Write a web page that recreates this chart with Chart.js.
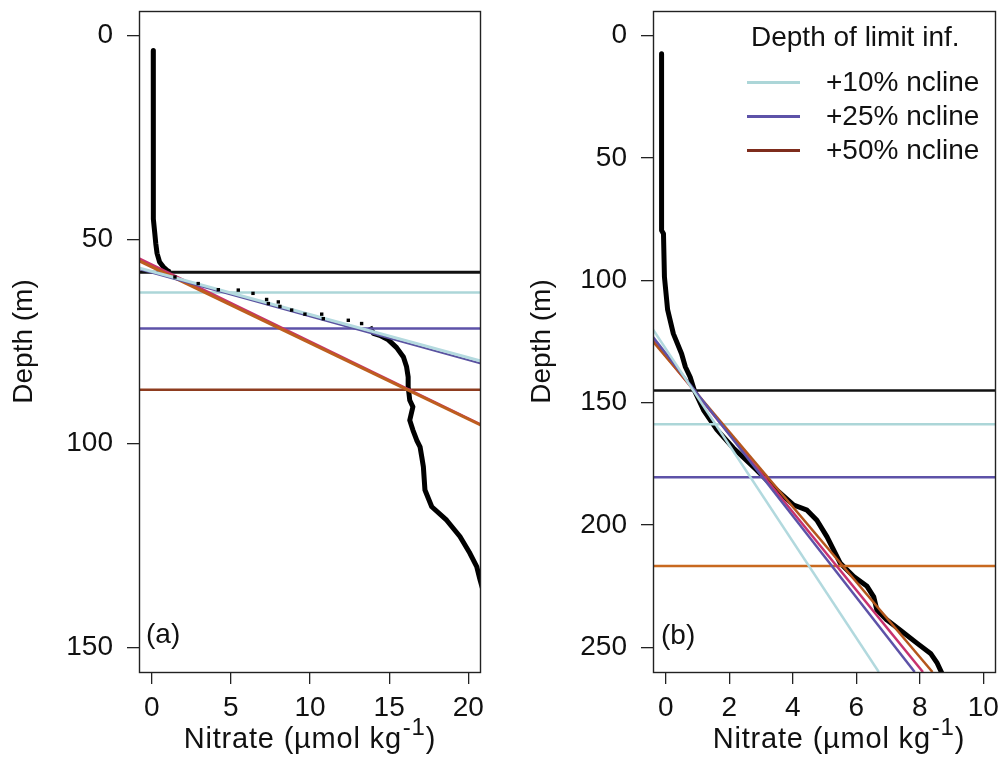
<!DOCTYPE html>
<html>
<head>
<meta charset="utf-8">
<script src="https://cdn.jsdelivr.net/npm/chart.js@4.4.1/dist/chart.umd.min.js"></script>
<style>
  html, body { margin: 0; padding: 0; background: #fff; }
  body { width: 1001px; height: 762px; position: relative; overflow: hidden;
         font-family: "Liberation Sans", Arial, sans-serif; color: #111; }
  canvas { position: absolute; top: 0; }
  #cA { left: 0; }
  #cB { left: 500px; }
  .txt { position: absolute; font-size: 28px; line-height: 28px; white-space: nowrap; }
  .xt { transform: translateX(-50%); font-size: 29px; letter-spacing: 0.8px; }
  .xt sup { font-size: 24px; position: relative; top: -13px; vertical-align: baseline; line-height: 0; margin-left: 1px; }
  .swatch { position: absolute; height: 3px; width: 53px; }
</style>
</head>
<body>
<canvas id="cA" width="500" height="762"></canvas>
<canvas id="cB" width="501" height="762"></canvas>
<div id="overlay"></div>
<script>
// ---- axes ----
const xRangeA = [-0.8, 20.8];
const yRangeA = [-6, 156];
const xTicksA = [0, 5, 10, 15, 20];
const yTicksA = [0, 50, 100, 150];

const xRangeB = [-0.4, 10.4];
const yRangeB = [-10, 260];
const xTicksB = [0, 2, 4, 6, 8, 10];
const yTicksB = [0, 50, 100, 150, 200, 250];

// ---- panel (a) nitrate profile ----
const topN_A   = [0.1, 0.1, 0.1, 0.1, 0.1, 0.13, 0.2, 0.26, 0.34, 0.5, 0.73, 0.95, 1.16];
const topD_A   = [3.7, 10, 20, 30, 40.4, 45, 48.6, 51, 53.4, 55.5, 56.7, 57.5, 58];
const dotsN_A  = [1.47, 2.94, 4.21, 5.47, 6.4, 7.26, 7.37, 8.0, 8.1, 8.84, 9.68, 10.74, 10.84, 12.42, 13.26];
const dotsD_A  = [59.2, 60.8, 62.3, 62.4, 63.2, 64.7, 65.7, 65.3, 66.4, 67.3, 68.3, 68.3, 69.4, 69.8, 70.6];
const lowN_A   = [13.79, 14.0, 14.4, 14.95, 15.47, 15.9, 16.1, 16.2, 16.2, 16.3, 16.5, 16.3, 16.5, 16.74, 16.95,
                  17.06, 17.16, 17.26, 17.69, 18.63, 19.47, 20.1, 20.53, 20.74, 21.0];
const lowD_A   = [71.4, 73.0, 73.5, 74.6, 76.5, 78.8, 81.2, 83.7, 86.1, 89.4, 91, 94.3, 96.7, 99.2, 100.8,
                  103.3, 105.7, 111.4, 115.5, 118.8, 122.8, 126.9, 130.2, 133.4, 137];

// ---- panel (a) depth limits and fitted lines ----
const limitsA = [58, 63, 71.8, 86.8];
const limitColorsA = ['#111111', '#acd6d8', '#5d52a8', '#8e3c1f'];
const fitLightA_N  = [-0.8, 20.8], fitLightA_D  = [57.0, 79.8];
const fitPurpleA_N = [-0.8, 20.8], fitPurpleA_D = [57.3, 80.4];
const fitOrangeA_N = [-0.8, 20.8], fitOrangeA_D = [55.2, 95.5];
const fitPinkA_N   = [-0.8, 20.8], fitPinkA_D   = [54.6, 95.4];

// ---- panel (b) nitrate profile ----
const profN_B = [-0.13, -0.13, -0.13, -0.13, -0.13, -0.07, -0.04, 0.03, 0.06, 0.24, 0.5, 0.62, 0.77, 0.9,
                 1.19, 1.61, 2.13, 2.87, 3.5, 4.03, 4.45, 4.76, 5.08, 5.29, 5.5, 5.92, 6.34, 6.55, 6.65,
                 6.97, 7.39, 7.92, 8.34, 8.55, 8.75];
const profD_B = [7.5, 20, 40, 60, 79.6, 81, 98.6, 108, 112, 121.8, 130, 135.4, 139.5, 144.9,
                 153, 161, 168.5, 177.6, 185.7, 191.8, 193.9, 198, 204.8, 210.2, 215.6, 221, 225, 229.3, 234.7,
                 238.8, 242.9, 248.3, 252.4, 256.4, 262];

// ---- panel (b) depth limits and fitted lines ----
const limitsB = [145, 158.8, 180.5, 216.7];
const limitColorsB = ['#111111', '#acd6d8', '#5d52a8', '#c8691f'];
const fitLightB_N  = [-0.4, 6.71], fitLightB_D  = [120.1, 260];
const fitPurpleB_N = [-0.4, 7.84], fitPurpleB_D = [123.2, 260];
const fitOrangeB_N = [-0.4, 8.4],  fitOrangeB_D = [125.0, 260];
const fitPinkB_N   = [-0.4, 8.1],  fitPinkB_D   = [124.5, 260];

// ---- legend ----
const legendTitle  = 'Depth of limit inf.';
const legendLabels = ['+10% ncline', '+25% ncline', '+50% ncline'];
const legendColors = ['#acd6d8', '#5d52a8', '#7e2c1c'];

const FONT = '"Liberation Sans", Arial, sans-serif';
const INK = '#111';

function pts(xs, ys) { return xs.map((x, i) => ({ x: x, y: ys[i] })); }

function line(data, color, width) {
  return { data: data, showLine: true, borderColor: color, borderWidth: width,
           pointRadius: 0, clip: 0, borderCapStyle: 'butt', borderJoinStyle: 'round' };
}

const boxPlugin = {
  id: 'box',
  afterDatasetsDraw(chart) {
    const { ctx, chartArea: a } = chart;
    ctx.save();
    ctx.strokeStyle = '#222';
    ctx.lineWidth = 1.4;
    ctx.strokeRect(Math.round(a.left) + 0.5, Math.round(a.top) + 0.5,
                   Math.round(a.right - a.left) - 1, Math.round(a.bottom - a.top));
    ctx.restore();
  }
};

function makePanel(id, o) {
  return new Chart(document.getElementById(id), {
    type: 'scatter',
    data: { datasets: o.datasets },
    plugins: [boxPlugin],
    options: {
      responsive: false,
      animation: false,
      events: [],
      layout: { padding: { top: 11, right: o.padRight, left: 0, bottom: 0 } },
      plugins: { legend: { display: false }, tooltip: { enabled: false } },
      scales: {
        x: {
          type: 'linear', min: o.xRange[0], max: o.xRange[1],
          afterBuildTicks: s => { s.ticks = o.xTicks.map(v => ({ value: v })); },
          afterFit: s => { s.height = 90; s.paddingLeft = 0; s.paddingRight = 0; },
          grid: { display: true, drawOnChartArea: false, drawTicks: true, tickLength: 12, color: '#222', lineWidth: 1.3 },
          border: { display: false },
          ticks: { color: INK, font: { family: FONT, size: 28 }, padding: 7, maxRotation: 0, autoSkip: false }
        },
        y: {
          type: 'linear', reverse: true, min: o.yRange[0], max: o.yRange[1],
          afterBuildTicks: s => { s.ticks = o.yTicks.map(v => ({ value: v })); },
          afterFit: s => { s.width = o.yWidth; s.paddingTop = 0; s.paddingBottom = 0; },
          grid: { display: true, drawOnChartArea: false, drawTicks: true, tickLength: 12, color: '#222', lineWidth: 1.3 },
          border: { display: false },
          ticks: { color: INK, font: { family: FONT, size: 28 }, padding: 14, autoSkip: false },
          title: { display: true, text: 'Depth (m)', color: INK, font: { family: FONT, size: 28 },
                   padding: { top: o.yTitlePad, bottom: 0 } }
        }
      }
    }
  });
}

// panel (a): first dataset is drawn on top
const dsA = [
  { data: pts(dotsN_A, dotsD_A), showLine: false, pointStyle: 'rect', pointRadius: 2.4, pointBorderWidth: 0,
    pointBackgroundColor: '#000', clip: 0 },
  line(pts(fitLightA_N, fitLightA_D), '#b4dadf', 3),
  line(pts(fitPurpleA_N, fitPurpleA_D), '#5a52a0', 2),
  line(pts(fitOrangeA_N, fitOrangeA_D), '#be5e1f', 3),
  line(pts(fitPinkA_N, fitPinkA_D), '#c8326e', 2.5),
  ...limitsA.map((d, i) => line(pts(xRangeA, [d, d]), limitColorsA[i], i === 0 ? 3 : 2.5)),
  line(pts(topN_A, topD_A), '#000', 5),
  line(pts(lowN_A, lowD_A), '#000', 5)
];

const dsB = [
  line(pts(fitLightB_N, fitLightB_D), '#b2d9de', 2.5),
  line(pts(fitPurpleB_N, fitPurpleB_D), '#5d52a8', 2.5),
  line(pts(fitOrangeB_N, fitOrangeB_D), '#b4561c', 2.5),
  line(pts(fitPinkB_N, fitPinkB_D), '#c8326e', 2.5),
  ...limitsB.map((d, i) => line(pts(xRangeB, [d, d]), limitColorsB[i], 2.5)),
  line(pts(profN_B, profD_B), '#000', 5)
];

makePanel('cA', { datasets: dsA, xRange: xRangeA, yRange: yRangeA, xTicks: xTicksA, yTicks: yTicksA,
                  yWidth: 139, padRight: 19, yTitlePad: 7 });
makePanel('cB', { datasets: dsB, xRange: xRangeB, yRange: yRangeB, xTicks: xTicksB, yTicks: yTicksB,
                  yWidth: 153, padRight: 5, yTitlePad: 25 });

// ---- text overlays: axis titles, panel tags, legend ----
const ov = document.getElementById('overlay');
function addText(html, left, top, cls) {
  const el = document.createElement('div');
  el.className = 'txt' + (cls ? ' ' + cls : '');
  el.style.left = left + 'px';
  el.style.top = top + 'px';
  el.innerHTML = html;
  ov.appendChild(el);
  return el;
}
const xTitle = 'Nitrate (\u00b5mol kg<sup>-1</sup>)';
addText(xTitle, 310, 724, 'xt');
addText(xTitle, 839, 724, 'xt');
addText('(a)', 146, 620);
addText('(b)', 661, 621);

addText(legendTitle, 751, 23);
const rowY = [82, 116, 150];
legendLabels.forEach((lab, i) => {
  const sw = document.createElement('div');
  sw.className = 'swatch';
  sw.style.left = '747px';
  sw.style.top = (rowY[i] - 1.5) + 'px';
  sw.style.background = legendColors[i];
  ov.appendChild(sw);
  addText(lab, 826, rowY[i] - 14);
});
</script>
</body>
</html>
